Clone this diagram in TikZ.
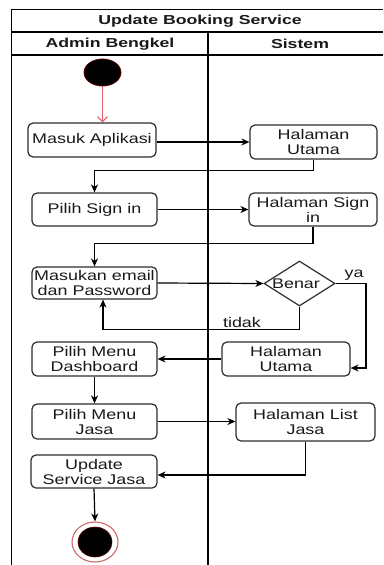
\documentclass[tikz,border=0pt]{standalone}
\usepackage{fontspec}
\setmainfont{Liberation Sans}
\newfontfamily\bodyfont[FakeStretch=1.28]{Liberation Sans}
\newfontfamily\headfont[FakeStretch=1.36]{Liberation Sans Bold}
\usetikzlibrary{arrows.meta,shapes.geometric}
\definecolor{boxgray}{RGB}{45,45,45}
\definecolor{txt}{RGB}{25,25,25}
\definecolor{startred}{RGB}{226,90,100}
\definecolor{darkred}{RGB}{90,0,0}
\definecolor{ringred}{RGB}{205,105,105}
\begin{document}
\begin{tikzpicture}[x=1pt,y=-1pt,
  frame/.style={draw=black,line width=1.4pt},
  act/.style={draw=boxgray,line width=1.2pt,rounded corners=5pt,inner sep=0pt,
    align=center,font=\bodyfont\fontsize{14}{15}\selectfont,text=txt},
  head/.style={inner sep=0pt,font=\headfont\fontsize{13}{15}\selectfont,text=txt},
  lbl/.style={inner sep=0pt,font=\bodyfont\fontsize{14}{15}\selectfont,text=txt},
  flow/.style={draw=black,line width=1.2pt,-{Stealth[length=8pt,width=7pt,inset=2.5pt]}},
  redarrow/.style={draw=startred,line width=1.1pt,-{Straight Barb[length=5pt,width=10pt]}}]
\useasboundingbox (0,0) rectangle (383,565);
% frame
\draw[frame] (11.5,565) -- (11.5,9.5) -- (383,9.5);
\draw[frame] (11.5,32) -- (383,32);
\draw[frame] (11.5,55) -- (383,55);
\draw[frame] (208,32) -- (208,565);
\node[head] (title) at (200,21) {Update Booking Service};
\node[head] (hadmin) at (110,44) {Admin Bengkel};
\node[head] (hsis) at (300,44) {Sistem};
% nodes
\node[ellipse,draw=darkred,fill=black,line width=0.8pt,minimum width=37pt,minimum height=27pt,inner sep=0pt] (start) at (102.5,72.5) {};
\node[act,minimum width=128pt,minimum height=34pt] (masuk) at (92,140) {Masuk Aplikasi};
\node[act,minimum width=127pt,minimum height=34pt] (hu1) at (313.5,142) {Halaman\\Utama};
\node[act,minimum width=125pt,minimum height=33pt] (sign) at (94.5,209.5) {Pilih Sign in};
\node[act,minimum width=128pt,minimum height=33pt] (hsign) at (313,209.5) {Halaman Sign\\in};
\node[act,minimum width=125pt,minimum height=32pt] (masukan) at (94.5,283) {Masukan email\\dan Password};
\node[diamond,draw=boxgray,line width=1.2pt,inner sep=0pt,minimum width=71pt,minimum height=45pt] (dia) at (299.5,283.5) {};
\node[lbl] (benar) at (296,284) {Benar};
\node[act,minimum width=128pt,minimum height=34pt] (hu2) at (286,359) {Halaman\\Utama};
\node[act,minimum width=125pt,minimum height=34pt] (dash) at (94.5,359) {Pilih Menu\\Dashboard};
\node[act,minimum width=125pt,minimum height=35pt] (jasa) at (94.5,421.5) {Pilih Menu\\Jasa};
\node[act,minimum width=139pt,minimum height=38pt] (hlist) at (305.5,422) {Halaman List\\Jasa};
\node[act,minimum width=126pt,minimum height=33pt] (update) at (94,471.5) {Update\\Service Jasa};
\node[ellipse,draw=ringred,line width=1.1pt,minimum width=46pt,minimum height=40pt,inner sep=0pt] (endo) at (95,542) {};
\node[ellipse,fill=black,draw=darkred,line width=0.6pt,minimum width=34pt,minimum height=30pt,inner sep=0pt] (endi) at (95,542) {};
\node[lbl] (ya) at (354,275) {ya};
\node[lbl] (tidak) at (242,322) {tidak};
\coordinate (yaC) at (366,368);
% connectors
\draw[redarrow] (start.south) -- (start.south |- masuk.north);
\draw[flow] (masuk.east |- hu1.west) -- (hu1.west);
\draw[flow] (hu1.south) -- ++(0,11) -| (sign.north);
\draw[flow] (sign.east) -- (hsign.west);
\draw[flow] (hsign.south) -- ++(0,17) -| (masukan.north);
\draw[flow] (masukan.east) -- (dia.west);
\draw[flow] (dia.east) -| (yaC) -- (yaC -| hu2.east);
\draw[flow] (dia.south) -- ++(0,23) -| ([xshift=8.5pt]masukan.south);
\draw[flow] (hu2.west) -- (dash.east |- hu2.west);
\draw[flow] (dash.south) -- (jasa.north);
\draw[flow] (jasa.east) -- (jasa.east -| hlist.west);
\draw[flow] (hlist.south) |- ([yshift=-3.5pt]update.east);
\draw[flow] (update.south) -- (endo.north);
\end{tikzpicture}
\end{document}
